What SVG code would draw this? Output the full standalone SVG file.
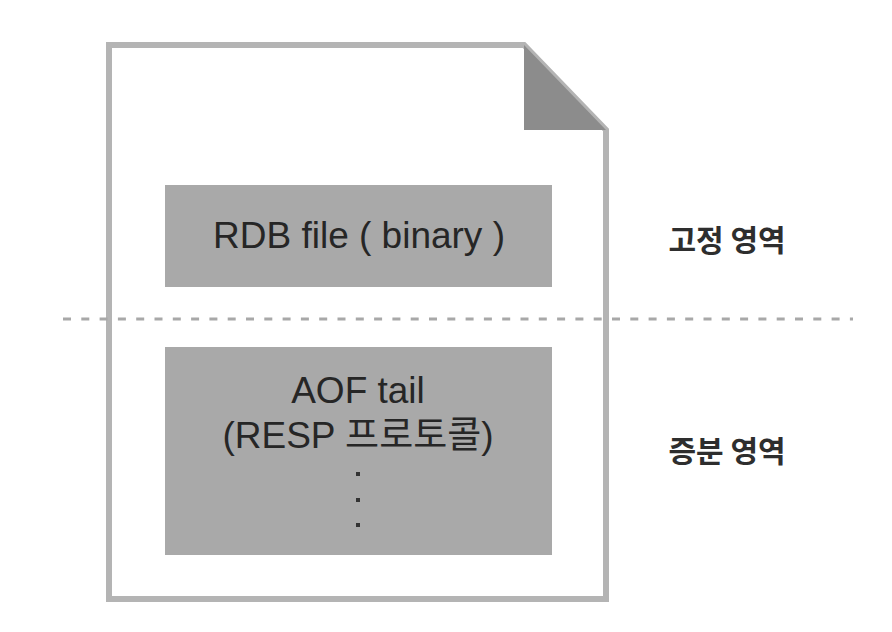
<svg xmlns="http://www.w3.org/2000/svg" width="892" height="632" viewBox="0 0 892 632">
  <style>
    .box { fill: #a9a9a9; }
    .label { font-family: "Liberation Sans", "Noto Sans CJK KR", sans-serif; font-size: 37px; fill: #262626; text-anchor: middle; }
    .side { font-family: "Noto Sans CJK KR", "Noto Sans", sans-serif; font-size: 30px; font-weight: bold; fill: #2e2e2e; text-anchor: middle; }
    .dot { fill: #333333; }
  </style>
  <rect width="892" height="632" fill="#ffffff"/>
  <g id="document">
    <path d="M109,45 H524 L606,130 V599 H109 Z" fill="#ffffff" stroke="#b4b4b4" stroke-width="6" stroke-linejoin="miter"/>
    <polygon points="524,45 524,130 606,130" fill="#8c8c8c"/>
  </g>
  <g id="divider">
    <line x1="63" y1="319" x2="853" y2="319" stroke="#a8a8a8" stroke-width="3" stroke-dasharray="8 10.3"/>
  </g>
  <g id="rdb">
    <rect class="box" x="165" y="185" width="387" height="102"/>
    <text class="label" x="359" y="248">RDB file ( binary )</text>
  </g>
  <g id="aof">
    <rect class="box" x="165" y="347" width="387" height="208"/>
    <text class="label" x="358" y="403">AOF tail</text>
    <text class="label" x="358" y="448">(RESP 프로토콜)</text>
    <rect class="dot" x="356" y="472" width="4" height="4"/>
    <rect class="dot" x="356" y="498" width="4" height="4"/>
    <rect class="dot" x="356" y="523" width="4" height="4"/>
  </g>
  <g id="fixed-label">
    <text class="side" x="727" y="251">고정 영역</text>
  </g>
  <g id="incremental-label">
    <text class="side" x="727" y="462">증분 영역</text>
  </g>
</svg>
